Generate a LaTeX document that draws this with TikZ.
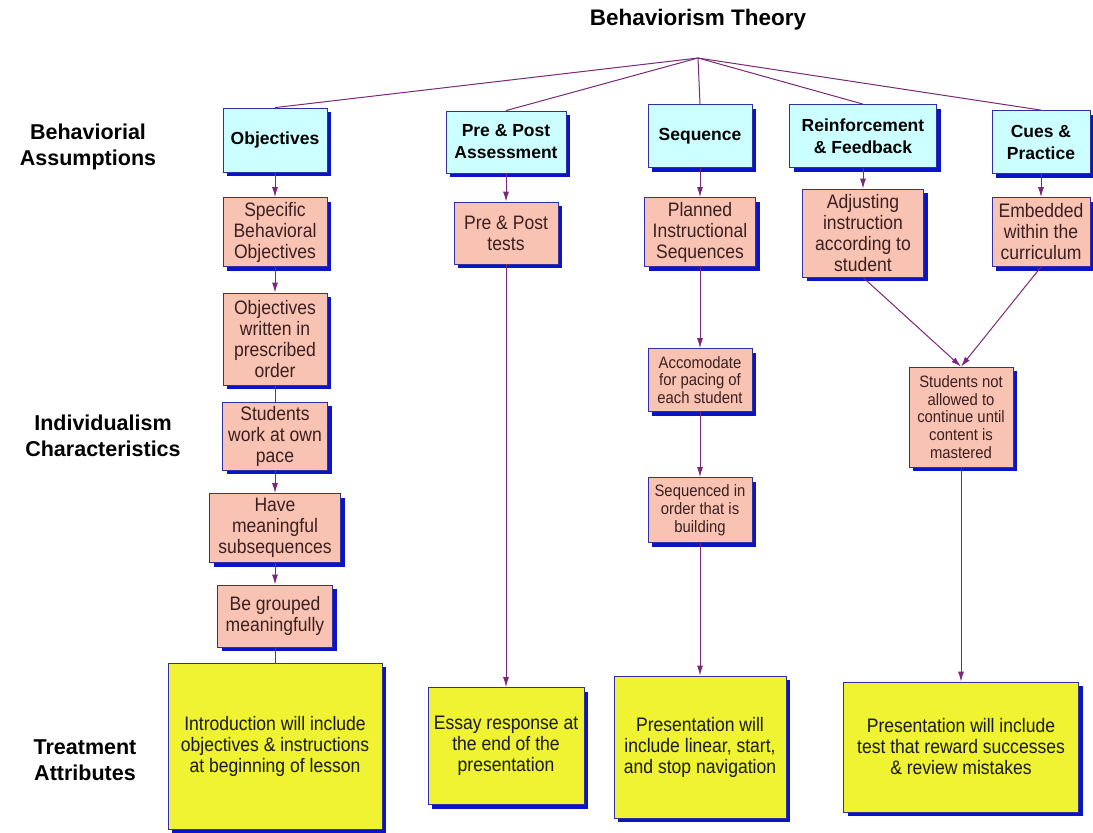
\documentclass[tikz,border=0pt]{standalone}
\usepackage{fontspec}
\setmainfont{Liberation Sans}
\newfontfamily\boxfont{Liberation Sans}[FakeStretch=0.9]
\usetikzlibrary{arrows.meta,shadows}
\definecolor{boxblue}{HTML}{CCFFFF}
\definecolor{boxpink}{HTML}{F9C3B3}
\definecolor{boxyellow}{HTML}{EFF332}
\definecolor{edgeblue}{HTML}{3030A0}
\definecolor{shadeblue}{HTML}{0A14C8}
\definecolor{wirepurple}{HTML}{7A2878}
\definecolor{inkbrown}{HTML}{3A2020}
\begin{document}
\begin{tikzpicture}[x=1pt,y=-1pt,
  box/.style={draw=edgeblue,line width=0.8pt,align=center,inner sep=1pt,
    drop shadow={shadow xshift=4pt,shadow yshift=-4pt,fill=shadeblue,opacity=1}},
  assume/.style={box,fill=boxblue,font=\fontsize{17.5}{22}\selectfont\bfseries},
  trait/.style={box,fill=boxpink,text=inkbrown,font=\boxfont\fontsize{19.5}{21}\selectfont},
  smalltrait/.style={trait,font=\boxfont\fontsize{16.5}{17.8}\selectfont},
  treat/.style={box,fill=boxyellow,text=black!90,font=\boxfont\fontsize{19.5}{21}\selectfont},
  rowlabel/.style={align=center,font=\fontsize{21.5}{26}\selectfont\bfseries},
  wire/.style={draw=wirepurple,line width=1pt},
  flow/.style={wire,-{Latex[length=10pt,width=6pt]}}]
\useasboundingbox (0,0) rectangle (1093,833);
\node[font=\fontsize{22.5}{26}\selectfont\bfseries] (title) at (698,20) {Behaviorism Theory};
\coordinate (hub) at (698,58);
\node[rowlabel] (lassume) at (88,147) {Behaviorial\\Assumptions};
\node[rowlabel] (lchar) at (103,436) {Individualism\\Characteristics};
\node[rowlabel] (ltreat) at (85,760) {Treatment\\Attributes};

\node[assume,minimum width=104pt,minimum height=64pt] (obj) at (275,140) {Objectives};
\node[assume,minimum width=120pt,minimum height=62pt] (prepost) at (506,142) {Pre \& Post\\Assessment};
\node[assume,minimum width=104pt,minimum height=63pt] (seq) at (700,136) {Sequence};
\node[assume,minimum width=147pt,minimum height=63pt] (reinf) at (863,136) {Reinforcement\\\& Feedback};
\node[assume,minimum width=98pt,minimum height=63pt] (cues) at (1041,142) {Cues \&\\Practice};

\node[trait,minimum width=104pt,minimum height=69pt] (spec) at (275,232) {Specific\\Behavioral\\Objectives};
\node[trait,minimum width=104pt,minimum height=92pt] (written) at (275,339) {Objectives\\written in\\prescribed\\order};
\node[trait,minimum width=105pt,minimum height=68pt] (ownpace) at (275,436) {Students\\work at own\\pace};
\node[trait,minimum width=131pt,minimum height=69pt] (subseq) at (275,528) {Have\\meaningful\\subsequences};
\node[trait,minimum width=115pt,minimum height=62pt] (grouped) at (275,616) {Be grouped\\meaningfully};
\node[trait,minimum width=104pt,minimum height=62pt] (tests) at (506,233) {Pre \& Post\\tests};
\node[trait,minimum width=111pt,minimum height=69pt] (planned) at (700,232) {Planned\\Instructional\\Sequences};
\node[smalltrait,minimum width=104pt,minimum height=63pt] (pacing) at (700,380) {Accomodate\\for pacing of\\each student};
\node[smalltrait,minimum width=104pt,minimum height=65pt] (building) at (700,510) {Sequenced in\\order that is\\building};
\node[trait,minimum width=121pt,minimum height=88pt] (adjust) at (863,233) {Adjusting\\instruction\\according to\\student};
\node[trait,minimum width=98pt,minimum height=69pt] (embed) at (1041,232) {Embedded\\within the\\curriculum};
\node[smalltrait,minimum width=104pt,minimum height=100pt] (mastered) at (961,417) {Students not\\allowed to\\continue until\\content is\\mastered};

\node[treat,minimum width=214pt,minimum height=166pt] (intro) at (275,746) {Introduction will include\\objectives \& instructions\\at beginning of lesson};
\node[treat,minimum width=156pt,minimum height=117pt] (essay) at (506,746) {Essay response at\\the end of the\\presentation};
\node[treat,minimum width=172pt,minimum height=142pt] (linear) at (700,747) {Presentation will\\include linear, start,\\and stop navigation};
\node[treat,minimum width=235pt,minimum height=130pt] (reward) at (961,747) {Presentation will include\\test that reward successes\\\& review mistakes};

\draw[wire] (hub) -- (obj.north);
\draw[wire] (hub) -- (prepost.north);
\draw[wire] (hub) -- (seq.north);
\draw[wire] (hub) -- (reinf.north);
\draw[wire] (hub) -- (cues.north);

\draw[flow] (obj) -- (spec);
\draw[flow] (spec) -- (written);
\draw[wire] (written) -- (ownpace);
\draw[flow] (ownpace) -- (subseq);
\draw[flow] (subseq) -- (grouped);
\draw[wire] (grouped) -- (intro);
\draw[flow] (prepost) -- (tests);
\draw[flow] (tests) -- (essay);
\draw[flow] (seq) -- (planned);
\draw[flow] (planned) -- (pacing);
\draw[flow] (pacing) -- (building);
\draw[flow] (building) -- (linear);
\draw[flow] (reinf) -- (adjust);
\draw[flow] (cues) -- (embed);
\draw[flow] (adjust.south) -- (mastered.north);
\draw[flow] (embed.south) -- (mastered.north);
\draw[flow] (mastered) -- (reward);
\end{tikzpicture}
\end{document}
